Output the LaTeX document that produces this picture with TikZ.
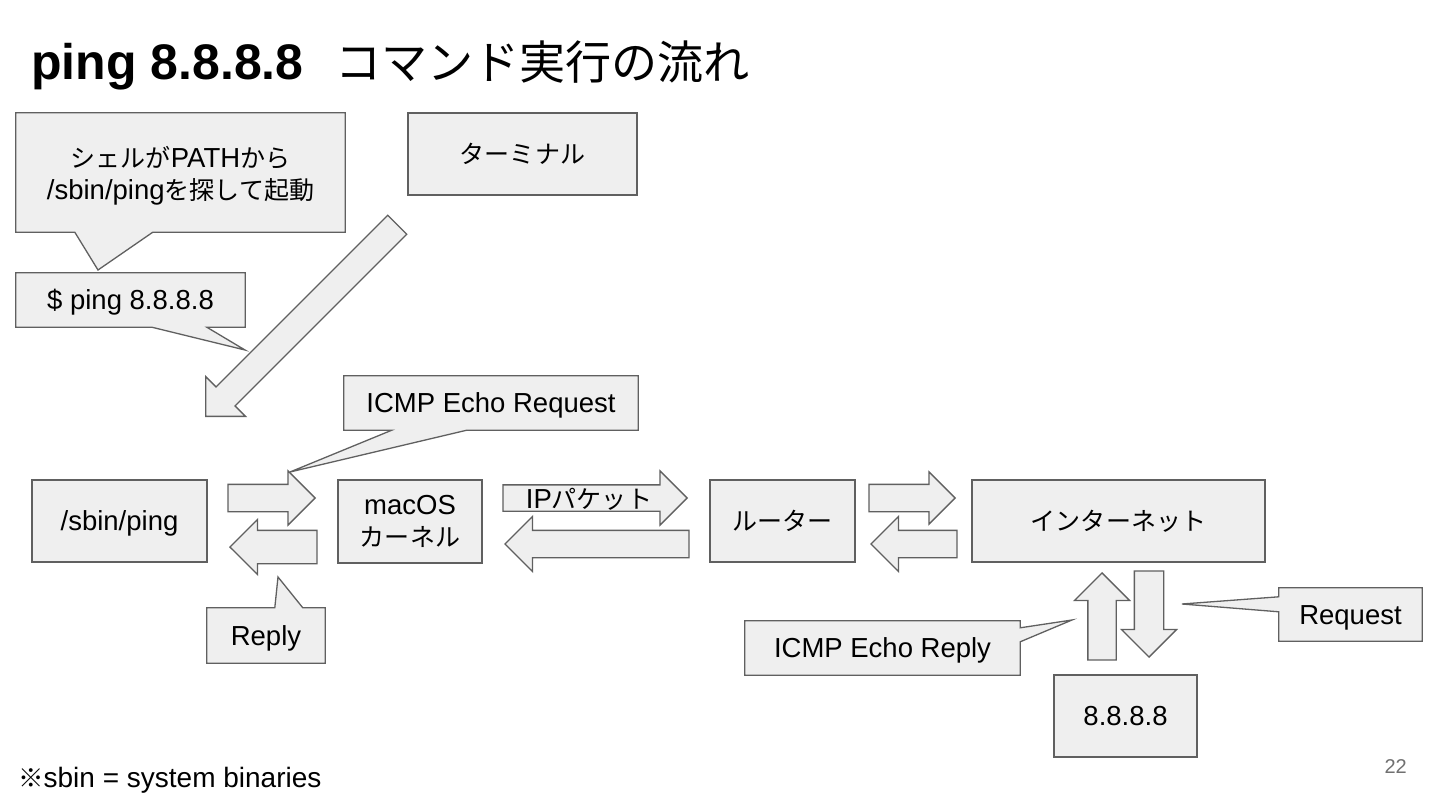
\documentclass[tikz,border=0pt]{standalone}
\usepackage{fontspec}
\setmainfont{Liberation Sans}
\newfontfamily\jp[Scale=0.91]{Noto Sans CJK JP}
\newfontfamily\jptitle[Scale=0.96]{Noto Sans CJK JP}
\usetikzlibrary{calc,shapes.arrows,backgrounds}

\definecolor{boxgray}{HTML}{EFEFEF}
\definecolor{linegray}{HTML}{606060}
\definecolor{pagegray}{HTML}{707070}
\newcommand\bodysize{\fontsize{27.5}{32}\selectfont}
\tikzset{
  box/.style={draw=linegray,fill=boxgray,line width=1.3pt,align=center,inner sep=0pt,font=\bodysize},
  note/.style={align=center,inner sep=0pt,font=\bodysize},
  oneline/.style={text height=24.9pt,text depth=5.8pt},
  outline/.style={draw=linegray,fill=boxgray,line width=1.3pt},
  blockarrow/.style={single arrow,draw=linegray,fill=boxgray,line width=1.3pt,
    inner xsep=0pt,inner ysep=13pt,single arrow head extend=13.5pt,minimum width=0pt,anchor=tip}
}

\begin{document}
\begin{tikzpicture}[x=1pt,y=-1pt,line join=miter]
  \useasboundingbox (0,0) rectangle (1440,810);

  % --- title ---
  \node[anchor=base west,inner sep=0pt,font=\fontsize{50}{58}\selectfont\bfseries] (title) at (31,80) {ping 8.8.8.8};
  \node[anchor=base west,inner sep=0pt,font=\fontsize{48}{56}\selectfont] (titlejp) at (335,80) {\jptitle コマンド実行の流れ};

  % --- boxes ---
  \node[box,oneline,minimum width=229pt,minimum height=82pt] (terminal) at (522.5,154) {\jp ターミナル};
  \node[box,oneline,minimum width=175pt,minimum height=82pt] (ping) at (119.5,521) {/sbin/ping};
  \node[box,minimum width=144pt,minimum height=83pt] (kernel) at (410,521.5) {macOS\\{\jp カーネル}};
  \node[box,oneline,minimum width=145pt,minimum height=82pt] (router) at (782.5,521) {\jp ルーター};
  \node[box,oneline,minimum width=293pt,minimum height=82pt] (internet) at (1118.5,521) {\jp インターネット};
  \node[box,oneline,minimum width=143pt,minimum height=82pt] (dns) at (1125.5,716) {8.8.8.8};

  % --- callout texts ---
  \node[note,text height=60pt,text depth=6pt,minimum width=329pt,minimum height=119pt] (shellnote) at (180.5,172.5)
    {{\jp シェルが}PATH{\jp から}\\/sbin/ping{\jp を探して起動}};
  \node[note,oneline,minimum width=229pt,minimum height=54pt] (cmdnote) at (130.5,300) {\$ ping 8.8.8.8};
  \node[note,oneline,minimum width=294pt,minimum height=54pt] (reqnote) at (491,403) {ICMP Echo Request};
  \node[note,oneline,minimum width=118pt,minimum height=55pt] (replynote) at (266,635.5) {Reply};
  \node[note,oneline,minimum width=275pt,minimum height=54pt] (echonote) at (882.5,648) {ICMP Echo Reply};
  \node[note,oneline,minimum width=143pt,minimum height=53pt] (requestnote) at (1350.5,614.5) {Request};

  % --- callout tips ---
  \coordinate (shelltip) at (98,270);
  \coordinate (cmdtip) at (245,350);
  \coordinate (reqtip) at (290,472);
  \coordinate (replytip) at (278,577);
  \coordinate (echotip) at (1072,620);
  \coordinate (requesttip) at (1182,604);

  \begin{scope}[on background layer]
    \fill[white] (0,0) rectangle (1440,810);
    \filldraw[outline] (shellnote.north west) -- (shellnote.north east) -- (shellnote.south east)
      -- ($(shellnote.south west)+(137,0)$) -- (shelltip) -- ($(shellnote.south west)+(59,0)$)
      -- (shellnote.south west) -- cycle;
    \filldraw[outline] (cmdnote.north west) -- (cmdnote.north east) -- (cmdnote.south east)
      -- ($(cmdnote.south west)+(191,0)$) -- (cmdtip) -- ($(cmdnote.south west)+(136,0)$)
      -- (cmdnote.south west) -- cycle;
    \filldraw[outline] (reqnote.north west) -- (reqnote.north east) -- (reqnote.south east)
      -- ($(reqnote.south west)+(123,0)$) -- (reqtip) -- ($(reqnote.south west)+(48,0)$)
      -- (reqnote.south west) -- cycle;
    \filldraw[outline] (replynote.north west) -- ($(replynote.north west)+(68,0)$) -- (replytip)
      -- ($(replynote.north west)+(96,0)$) -- (replynote.north east) -- (replynote.south east)
      -- (replynote.south west) -- cycle;
    \filldraw[outline] (echonote.north west) -- (echonote.north east) -- ($(echonote.north east)+(0,7)$)
      -- (echotip) -- ($(echonote.north east)+(0,21)$) -- (echonote.south east)
      -- (echonote.south west) -- cycle;
    \filldraw[outline] (requestnote.north west) -- (requestnote.north east) -- (requestnote.south east)
      -- (requestnote.south west) -- ($(requestnote.north west)+(0,24)$) -- (requesttip)
      -- ($(requestnote.north west)+(0,9)$) -- cycle;
  \end{scope}

  % --- block arrows ---
  \node[blockarrow,minimum height=271pt,inner ysep=12.75pt,single arrow head extend=14.75pt,rotate=225] (launch) at (205,417) {};
  \node[blockarrow,minimum height=87pt] (pingreq) at (316,498) {};
  \node[blockarrow,minimum height=87pt,inner ysep=16pt,single arrow head extend=11pt,rotate=180] (pingrep) at (229,547) {};
  \node[blockarrow,minimum height=184pt,inner ysep=12.5pt,single arrow head extend=14pt] (ipreq) at (688,498) {};
  \node[blockarrow,minimum height=184pt,single arrow head extend=14pt,rotate=180] (iprep) at (504,544) {};
  \node[blockarrow,minimum height=86pt,single arrow head extend=12.5pt] (netreq) at (956,498) {};
  \node[blockarrow,minimum height=86pt,single arrow head extend=14pt,rotate=180] (netrep) at (870,544) {};
  \node[blockarrow,minimum height=87pt,inner ysep=13.5pt,rotate=90] (dnsrep) at (1102,572) {};
  \node[blockarrow,minimum height=86pt,inner ysep=14pt,single arrow head extend=13pt,rotate=-90] (dnsreq) at (1149,658) {};
  \node[note,oneline] (ippacket) at (589,499) {IP{\jp パケット}};

  % --- footer ---
  \node[anchor=base west,inner sep=0pt,font=\fontsize{28}{32}\selectfont] (footnote) at (18,787) {{\jp ※}sbin = system binaries};
  \node[anchor=base east,inner sep=0pt,font=\fontsize{20}{24}\selectfont,text=pagegray] (pagenum) at (1407,773) {22};
\end{tikzpicture}
\end{document}
